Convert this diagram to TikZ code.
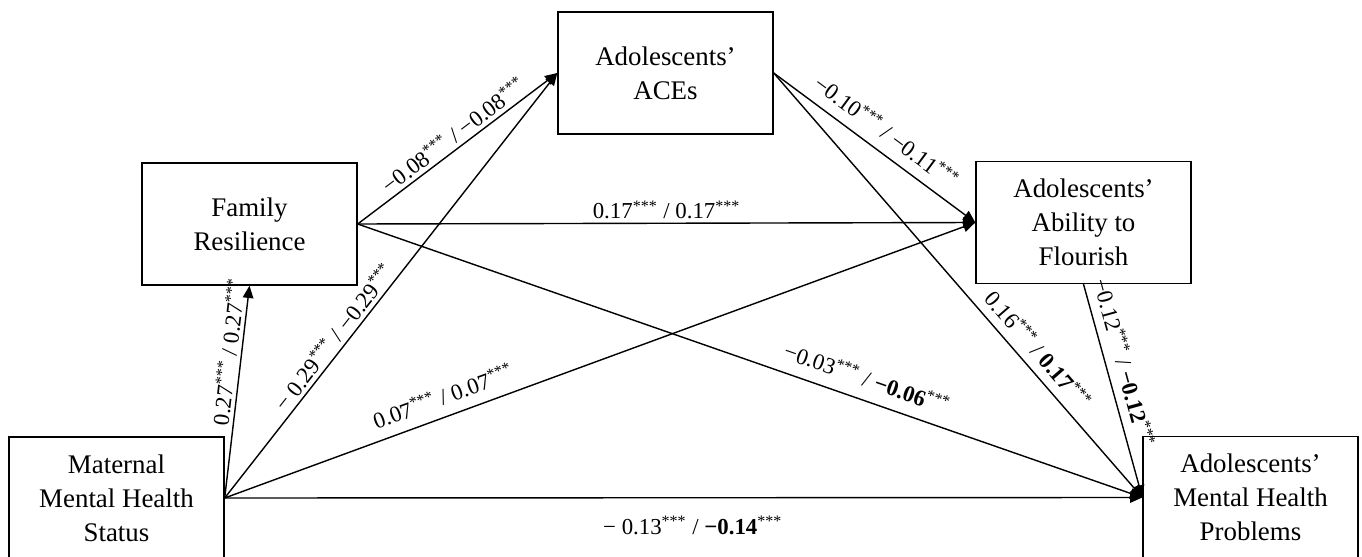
\documentclass[tikz,border=0pt]{standalone}
\usepackage{fontspec}
\setmainfont{Liberation Serif}
\usetikzlibrary{arrows.meta, positioning}
\newcommand{\pstar}{\textsuperscript{***}}

\begin{document}
\begin{tikzpicture}[
  x=0.02cm, y=-0.02cm,
  var/.style={draw, line width=0.8pt, minimum width=4.3cm, minimum height=2.44cm,
              align=center, inner sep=0pt, font=\fontsize{15.3}{19.3}\selectfont},
  link/.style={draw, line width=0.8pt, -{Triangle[length=7pt,width=6pt]}},
  coef/.style={font=\fontsize{13}{15}\selectfont, inner sep=2pt}
]
\useasboundingbox (0,0) rectangle (1362,557);

\node[var] (mm)  at (116.5,498)   {Maternal\\Mental Health\\Status};
\node[var] (fr)  at (249.5,224)   {Family\\Resilience};
\node[var] (ace) at (665.5,73)    {Adolescents’\\ACEs};
\node[var] (fl)  at (1083.5,222.5){Adolescents’\\Ability to\\Flourish};
\node[var] (mhp) at (1250.5,497.5){Adolescents’\\Mental Health\\Problems};

% paths from maternal mental health
\draw[link] (mm.east) -- node[coef, sloped, above, pos=0.68] {0.27\pstar{} / 0.27\pstar} (fr.south);
\draw[link] (mm.east) -- node[coef, sloped, above, pos=0.36] {− 0.29\pstar{} / −0.29\pstar} (ace.west);
\draw[link] (mm.east) -- node[coef, sloped, above=4pt, pos=0.3] {0.07\pstar{} / 0.07\pstar} (fl.west);
\draw[link] (mm.east) -- node[coef, below=8pt, pos=0.51] {− 0.13\pstar{} / \textbf{−0.14}\pstar} (mhp.west);

% paths from family resilience
\draw[link] (fr.east) -- node[coef, sloped, above, pos=0.52] {−0.08\pstar{} / −0.08\pstar} (ace.west);
\draw[link] (fr.east) -- node[coef, above, pos=0.5] {0.17\pstar{} / 0.17\pstar} (fl.west);
\draw[link] (fr.east) -- node[coef, sloped, above=5pt, pos=0.64] {−0.03\pstar{} / \textbf{−0.06}\pstar} (mhp.west);

% paths from ACEs and flourishing
\draw[link] (ace.east) -- node[coef, sloped, above=4pt, pos=0.5] {−0.10\pstar{} / −0.11\pstar} (fl.west);
\draw[link] (ace.east) -- node[coef, sloped, above=3pt, pos=0.68] {0.16\pstar{} / \textbf{0.17}\pstar} (mhp.west);
\draw[link] (fl.south) -- node[coef, sloped, above=3pt, pos=0.39] {−0.12\pstar{} / \textbf{−0.12}\pstar} (mhp.west);
\end{tikzpicture}
\end{document}
